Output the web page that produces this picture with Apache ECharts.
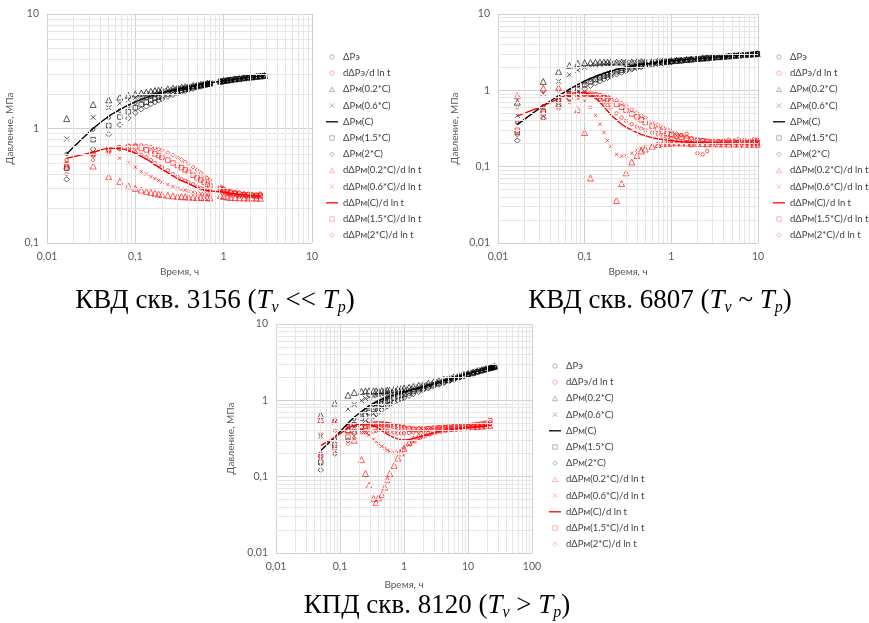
<!DOCTYPE html>
<html>
<head>
<meta charset="utf-8">
<script src="https://cdn.jsdelivr.net/npm/echarts@6/dist/echarts.min.js"></script>
<style>
  html, body { margin: 0; padding: 0; background: #fff; }
  #chart { width: 869px; height: 623px; }
</style>
</head>
<body>
<div id="chart"></div>
<script>
// имена рядов (общие для трёх графиков)
const seriesNames = ['ΔPэ', 'dΔPэ/d ln t', 'ΔPм(0.2*C)', 'ΔPм(0.6*C)', 'ΔPм(C)', 'ΔPм(1.5*C)', 'ΔPм(2*C)',
  'dΔPм(0.2*C)/d ln t', 'dΔPм(0.6*C)/d ln t', 'dΔPм(C)/d ln t', 'dΔPм(1.5*C)/d ln t', 'dΔPм(2*C)/d ln t'];

// --- КВД скв. 3156 ---
const T1 = [0.0167,0.0333,0.05,0.0667,0.0833,0.1,0.1167,0.1333,0.15,0.1667, 0.1833,0.2,0.2333,0.2667,0.3,0.3333,0.3667,0.4,0.45,0.5, 0.55,0.6,0.65,0.7,0.92,1.0,1.1,1.2,1.35,1.5, 1.7,1.9,2.1,2.35,2.6,2.9];
const c1_pe  = [0.60,0.98,1.24,1.43,1.57,1.68,1.77,1.84,1.90,1.95, 2.00,2.04,2.10,2.15,2.19,2.23,2.26,2.29,2.33,2.37, 2.40,2.43,2.46,2.49,2.57,2.60,2.63,2.66,2.69,2.72, 2.75,2.78,2.81,2.84,2.86,2.88];
const c1_dpe = [0.53,0.58,0.64,0.66,0.65,0.62,0.59,0.56,0.53,0.50, 0.48,0.46,0.43,0.40,0.38,0.36,0.35,0.34,0.325,0.31, 0.30,0.295,0.29,0.287,0.30,0.29,0.27,0.26,0.275,0.255, 0.265,0.25,0.26,0.255,0.27,null];
const c1_p02 = [1.22,1.62,1.78,1.88,1.95,2.00,2.04,2.08,2.11,2.14, 2.16,2.18,2.22,2.25,2.28,2.30,2.32,2.34,2.37,2.40, 2.43,2.45,2.48,2.50,2.59,2.62,2.65,2.67,2.71,2.73, 2.77,2.80,2.82,2.85,2.87,2.90];
const c1_p06 = [0.81,1.25,1.52,1.66,1.78,1.86,1.92,1.97,2.01,2.04, 2.07,2.10,2.15,2.19,2.22,2.25,2.28,2.31,2.35,2.38, 2.42,2.44,2.47,2.50,2.58,2.61,2.64,2.67,2.70,2.73, 2.76,2.79,2.82,2.84,2.87,2.89];
const c1_pm  = [0.60,1.00,1.28,1.46,1.60,1.71,1.79,1.86,1.92,1.97, 2.01,2.05,2.11,2.16,2.20,2.24,2.27,2.30,2.34,2.38, 2.41,2.44,2.47,2.50,2.58,2.61,2.64,2.66,2.70,2.72, 2.76,2.79,2.81,2.84,2.86,2.89];
const c1_p15 = [0.45,0.80,1.06,1.26,1.40,1.52,1.62,1.70,1.77,1.83, 1.88,1.92,2.00,2.06,2.11,2.16,2.20,2.23,2.28,2.32, 2.36,2.40,2.44,2.47,2.57,2.60,2.63,2.66,2.70,2.72, 2.76,2.79,2.81,2.84,2.86,2.89];
const c1_p2  = [0.36,0.66,0.89,1.08,1.23,1.37,1.47,1.56,1.64,1.70, 1.76,1.81,1.90,1.97,2.03,2.08,2.13,2.17,2.23,2.28, 2.33,2.37,2.41,2.45,2.56,2.59,2.62,2.65,2.69,2.72, 2.75,2.78,2.81,2.83,2.86,2.88];
const c1_d02 = [0.47,0.47,0.38,0.345,0.315,0.30,0.29,0.283,0.277,0.272, 0.268,0.265,0.261,0.258,0.256,0.254,0.253,0.252,0.251,0.25, 0.25,0.249,0.249,0.248,0.26,0.255,0.252,0.25,0.249,0.248, 0.248,0.247,0.247,0.247,0.246,null];
const c1_d06 = [0.50,0.59,0.60,0.55,0.50,0.46,0.42,0.40,0.38,0.365, 0.352,0.34,0.325,0.312,0.302,0.295,0.289,0.284,0.278,0.273, 0.27,0.268,0.266,0.265,0.285,0.275,0.268,0.263,0.26,0.258, 0.256,0.255,0.254,0.253,0.252,null];
const c1_dpm = [0.55,0.62,0.67,0.67,0.64,0.61,0.57,0.54,0.51,0.48, 0.46,0.44,0.41,0.385,0.365,0.35,0.34,0.33,0.315,0.305, 0.298,0.292,0.288,0.285,0.28,0.278,0.275,0.272,0.269,0.266, 0.264,0.262,0.26,0.258,0.257,null];
const c1_d15 = [0.48,0.60,0.66,0.68,0.69,0.69,0.67,0.65,0.62,0.60, 0.58,0.56,0.53,0.50,0.475,0.455,0.435,0.415,0.39,0.37, 0.355,0.34,0.325,0.315,0.30,0.29,0.282,0.276,0.271,0.267, 0.264,0.262,0.26,0.259,0.258,null];
const c1_d2  = [0.40,0.53,0.62,0.68,0.71,0.72,0.715,0.705,0.69,0.675, 0.66,0.645,0.615,0.585,0.56,0.535,0.51,0.49,0.46,0.435, 0.41,0.39,0.37,0.355,0.31,0.30,0.29,0.285,0.28,0.276, 0.273,0.27,0.268,0.267,0.266,null];

// --- КВД скв. 6807 ---
const T2 = [0.0167,0.0333,0.05,0.0667,0.0833,0.1,0.1167,0.1333,0.15,0.1667, 0.1833,0.2,0.2333,0.2667,0.3,0.35,0.4,0.45,0.5,0.6, 0.7,0.8,0.9,1,1.15,1.3,1.5,1.7,2,2.3, 2.6,3,3.5,4,4.6,5.3,6,7,8,9, 9.8];
const c2_pe  = [0.38,0.62,0.82,0.99,1.14,1.27,1.38,1.47,1.55,1.62, 1.68,1.74,1.83,1.91,1.97,2.05,2.11,2.16,2.20,2.26, 2.31,2.35,2.38,2.41,2.45,2.48,2.52,2.55,2.59,2.62, 2.65,2.69,2.73,2.76,2.80,2.84,2.87,2.91,2.95,2.98, 3.01];
const c2_dpe = [0.38,0.60,0.74,0.85,0.90,0.90,0.87,0.82,0.76,0.70, 0.64,0.59,0.50,0.44,0.40,0.36,0.335,0.315,0.30,0.28, 0.265,0.25,0.24,0.235,0.24,0.26,0.27,0.19,0.15,0.145, 0.16,0.20,0.215,0.22,0.225,0.22,0.23,0.225,0.22,0.23, 0.225];
const c2_p02 = [0.70,1.31,1.77,2.12,2.25,2.30,2.32,2.33,2.34,2.35, 2.35,2.35,2.35,2.35,2.35,2.36,2.37,2.38,2.39,2.40, 2.42,2.43,2.44,2.45,2.48,2.50,2.54,2.57,2.61,2.64, 2.67,2.71,2.75,2.78,2.82,2.86,2.89,2.93,2.97,3.00, 3.03];
const c2_p06 = [0.47,0.92,1.31,1.60,1.83,2.00,2.10,2.16,2.20,2.23, 2.25,2.27,2.29,2.30,2.31,2.32,2.33,2.34,2.35,2.37, 2.39,2.41,2.43,2.44,2.47,2.50,2.53,2.56,2.60,2.63, 2.66,2.70,2.74,2.77,2.81,2.85,2.88,2.92,2.96,2.99, 3.02];
const c2_pm  = [0.355,0.63,0.85,1.03,1.19,1.32,1.43,1.52,1.60,1.67, 1.73,1.78,1.87,1.94,2.00,2.07,2.13,2.17,2.21,2.27, 2.32,2.36,2.39,2.42,2.46,2.49,2.53,2.56,2.60,2.63, 2.66,2.70,2.74,2.77,2.81,2.85,2.88,2.92,2.96,2.99, 3.02];
const c2_p15 = [0.28,0.53,0.73,0.90,1.05,1.18,1.29,1.38,1.46,1.53, 1.59,1.65,1.75,1.83,1.90,1.98,2.05,2.10,2.15,2.22, 2.27,2.31,2.35,2.38,2.43,2.46,2.50,2.54,2.58,2.62, 2.65,2.69,2.73,2.76,2.80,2.84,2.87,2.91,2.95,2.98, 3.01];
const c2_p2  = [0.22,0.43,0.62,0.78,0.92,1.05,1.15,1.24,1.32,1.40, 1.46,1.52,1.62,1.71,1.78,1.88,1.96,2.02,2.08,2.16, 2.22,2.27,2.31,2.35,2.40,2.44,2.49,2.53,2.57,2.61, 2.64,2.68,2.72,2.76,2.80,2.83,2.87,2.91,2.95,2.98, 3.01];
const c2_d02 = [0.85,1.07,1.09,0.95,0.56,0.28,0.071,null,null,null, null,null,0.036,0.06,0.083,0.115,0.14,0.16,0.17,0.185, 0.195,0.2,0.202,0.204,0.205,0.205,0.204,0.203,0.202,0.201, 0.2,0.2,0.199,0.199,0.198,0.198,0.198,0.197,0.197,0.197, 0.197];
const c2_d06 = [0.59,0.90,0.98,0.92,0.80,0.72,0.60,0.47,0.36,0.28, 0.22,0.185,0.145,0.137,0.14,0.15,0.165,0.175,0.183,0.192, 0.198,0.201,0.203,0.205,0.206,0.207,0.207,0.207,0.206,0.206, 0.205,0.205,0.205,0.204,0.204,0.204,0.204,0.204,0.204,0.204, 0.204];
const c2_dpm = [0.46,0.63,0.78,0.89,0.94,0.93,0.88,0.79,0.70,0.61, 0.54,0.48,0.41,0.36,0.33,0.30,0.28,0.265,0.255,0.24, 0.232,0.226,0.222,0.22,0.215,0.212,0.21,0.208,0.207,0.206, 0.205,0.205,0.204,0.204,0.204,0.203,0.203,0.203,0.203,0.203, 0.203];
const c2_d15 = [0.30,0.50,0.66,0.80,0.88,0.90,0.89,0.87,0.84,0.80, 0.77,0.73,0.66,0.60,0.55,0.49,0.45,0.41,0.38,0.34, 0.31,0.29,0.275,0.265,0.252,0.243,0.235,0.228,0.222,0.218, 0.215,0.212,0.21,0.209,0.208,0.207,0.206,0.206,0.205,0.205, 0.205];
const c2_d2  = [0.26,0.43,0.57,0.70,0.80,0.86,0.88,0.88,0.87,0.85, 0.83,0.80,0.74,0.68,0.63,0.56,0.51,0.47,0.44,0.39, 0.355,0.33,0.31,0.29,0.27,0.256,0.245,0.236,0.228,0.222, 0.218,0.215,0.213,0.212,0.212,0.213,0.214,0.215,0.216,0.217, 0.218];

// --- КПД скв. 8120 ---
const T3 = [0.05,0.0833,0.1333,0.1667,0.2167,0.25,0.2833,0.3333,0.3667,0.4, 0.45,0.5,0.55,0.6,0.7,0.8,0.9,1,1.2,1.4, 1.7,2,2.4,2.9,3.5,4.2,5,6,7.2,8.6, 10,12,14,16.5,19,22,24,26];
const c3_pe  = [0.20,0.31,0.47,0.57,0.68,0.75,0.81,0.88,0.92,0.96, 1.01,1.05,1.09,1.12,1.16,1.20,1.23,1.26,1.31,1.36, 1.42,1.48,1.55,1.62,1.70,1.78,1.86,1.94,2.03,2.12, 2.19,2.29,2.38,2.47,2.55,2.64,2.69,2.73];
const c3_dpe = [0.18,0.40,0.46,0.48,0.40,0.38,0.37,0.39,0.40,0.41, 0.42,0.41,0.40,0.39,0.38,0.37,0.37,0.37,0.375,0.38, 0.39,0.40,0.41,0.42,0.43,0.43,0.44,0.44,0.45,0.45, 0.46,0.46,0.47,0.47,0.48,0.49,null,null];
const c3_p02 = [0.64,0.92,1.17,1.27,1.31,1.33,1.33,1.33,1.33,1.33, 1.34,1.35,1.36,1.37,1.39,1.41,1.43,1.45,1.48,1.52, 1.57,1.62,1.68,1.75,1.82,1.89,1.96,2.03,2.11,2.19, 2.26,2.35,2.44,2.53,2.61,2.70,2.75,2.80];
const c3_p06 = [0.34,0.52,0.77,0.88,0.99,1.06,1.10,1.14,1.16,1.18, 1.21,1.23,1.25,1.27,1.30,1.33,1.35,1.37,1.41,1.45, 1.50,1.55,1.61,1.68,1.75,1.83,1.91,1.99,2.07,2.16, 2.23,2.33,2.42,2.51,2.59,2.68,2.73,2.77];
const c3_pm  = [0.22,0.33,0.50,0.60,0.71,0.78,0.84,0.91,0.95,0.99, 1.03,1.08,1.11,1.14,1.18,1.22,1.25,1.28,1.33,1.38, 1.44,1.50,1.57,1.64,1.72,1.80,1.88,1.96,2.05,2.14, 2.21,2.31,2.40,2.49,2.57,2.66,2.71,2.75];
const c3_p15 = [0.155,0.26,0.40,0.48,0.58,0.64,0.69,0.76,0.80,0.84, 0.89,0.94,0.98,1.01,1.07,1.12,1.16,1.19,1.25,1.31, 1.38,1.44,1.51,1.59,1.67,1.75,1.83,1.92,2.01,2.10, 2.18,2.28,2.37,2.46,2.54,2.63,2.69,2.73];
const c3_p2  = [0.122,0.20,0.30,0.37,0.45,0.50,0.55,0.62,0.66,0.70, 0.75,0.80,0.84,0.88,0.94,1.00,1.04,1.08,1.15,1.21, 1.29,1.36,1.44,1.52,1.61,1.70,1.78,1.87,1.97,2.06, 2.14,2.24,2.33,2.43,2.51,2.60,2.66,2.71];
const c3_d02 = [0.56,0.56,0.41,0.30,0.167,0.11,0.077,0.052,0.046,0.053, 0.058,0.073,0.091,0.11,0.14,0.175,0.205,0.235,0.28,0.31, 0.34,0.36,0.38,0.395,0.41,0.42,0.425,0.43,0.435,0.44, 0.445,0.45,0.455,0.46,0.465,0.47,null,null];
const c3_d06 = [0.36,0.52,0.47,0.45,0.41,0.38,0.35,0.31,0.29,0.27, 0.25,0.235,0.222,0.214,0.206,0.21,0.22,0.235,0.26,0.285, 0.31,0.33,0.35,0.37,0.385,0.40,0.41,0.42,0.43,0.435, 0.44,0.445,0.45,0.455,0.46,0.465,null,null];
const c3_dpm = [0.255,0.33,0.43,0.47,0.49,0.49,0.48,0.465,0.45,0.43, 0.40,0.38,0.36,0.345,0.325,0.312,0.305,0.303,0.308,0.318, 0.33,0.345,0.36,0.375,0.39,0.40,0.41,0.42,0.43,0.435, 0.44,0.445,0.45,0.455,0.46,0.47,null,null];
const c3_d15 = [0.19,0.24,0.33,0.39,0.44,0.46,0.475,0.485,0.49,0.49, 0.49,0.485,0.48,0.475,0.46,0.45,0.44,0.43,0.42,0.415, 0.415,0.42,0.425,0.43,0.435,0.44,0.445,0.45,0.455,0.46, 0.465,0.47,0.48,0.49,0.50,0.54,null,null];
const c3_d2  = [0.145,0.20,0.27,0.32,0.38,0.41,0.44,0.465,0.475,0.485, 0.49,0.49,0.49,0.485,0.475,0.465,0.455,0.45,0.44,0.435, 0.43,0.43,0.435,0.44,0.445,0.45,0.455,0.46,0.465,0.47, 0.475,0.48,0.485,0.49,0.50,0.52,null,null];

// значки-пути (с сохранением пропорций в легенде)
const CROSS = 'path://M0,0L10,10M10,0L0,10';
const TRI = 'path://M5,0L10,9L0,9Z';
const SQR = 'path://M0,0H10V10H0Z';
const DIA = 'path://M5,0L10,5L5,10L0,5Z';
const CIRC = 'path://M5,0A5,5,0,1,1,5,10A5,5,0,1,1,5,0Z';
const DASH = 'path://M0,0H12V1.3H0Z';
const BLK = '#000000', RED = '#ff0000';
// вид маркеров в порядке seriesNames
const marks = [
  { kind: 'scatter', symbol: 'circle', icon: CIRC, size: 3.5, color: BLK },
  { kind: 'scatter', symbol: 'circle', icon: CIRC, size: 3.5, color: RED },
  { kind: 'scatter', symbol: 'triangle', icon: TRI, size: 6, color: BLK },
  { kind: 'scatter', symbol: CROSS, icon: CROSS, size: 5, color: BLK },
  { kind: 'line', color: BLK },
  { kind: 'scatter', symbol: 'rect', icon: SQR, size: 4.5, color: BLK },
  { kind: 'scatter', symbol: 'diamond', icon: DIA, size: 5.5, color: BLK },
  { kind: 'scatter', symbol: 'triangle', icon: TRI, size: 6, color: RED },
  { kind: 'scatter', symbol: CROSS, icon: CROSS, size: 3.5, color: RED },
  { kind: 'line', color: RED },
  { kind: 'scatter', symbol: 'rect', icon: SQR, size: 4.5, color: RED },
  { kind: 'scatter', symbol: 'diamond', icon: DIA, size: 4, color: RED }
];

function buildSeries(gi, T, arrs) {
  return arrs.map((vals, k) => {
    const m = marks[k];
    const data = T.map((t, i) => [t, vals[i]]).filter(p => p[1] != null);
    if (m.kind === 'line') {
      return {
        name: seriesNames[k], type: 'line', xAxisIndex: gi, yAxisIndex: gi, data,
        symbol: 'none', smooth: 0.3, z: 4,
        lineStyle: { color: m.color, width: 1.4 }, itemStyle: { color: m.color }
      };
    }
    return {
      name: seriesNames[k], type: 'scatter', xAxisIndex: gi, yAxisIndex: gi, data,
      symbol: m.symbol, symbolSize: m.size, z: 3,
      itemStyle: { color: 'rgba(0,0,0,0)', borderColor: m.color, borderWidth: 0.8 }
    };
  });
}

// мелкая сетка логарифмических осей (2..9 в каждой декаде)
function minorGrid(gi, x0, x1, y0, y1) {
  const d = [];
  for (let e = x0; e < x1 * 0.999; e *= 10)
    for (let k = 2; k <= 9; k++) d.push({ xAxis: +(k * e).toPrecision(3) });
  for (let e = y0; e < y1 * 0.999; e *= 10)
    for (let k = 2; k <= 9; k++) d.push({ yAxis: +(k * e).toPrecision(3) });
  return {
    type: 'line', xAxisIndex: gi, yAxisIndex: gi, data: [], silent: true, z: 1,
    markLine: {
      silent: true, symbol: ['none', 'none'], label: { show: false }, animation: false,
      lineStyle: { color: '#e6e6e6', width: 1, type: 'solid' }, emphasis: { disabled: true }, data: d
    }
  };
}

const fmt = v => String(+(+v).toPrecision(3)).replace('.', ',');
const FONT = 'Lato';

function xAx(gi, min, max, gap) {
  return {
    type: 'log', logBase: 10, gridIndex: gi, min, max,
    name: 'Время, ч', nameLocation: 'middle', nameGap: gap,
    nameTextStyle: { fontFamily: FONT, fontSize: 10, color: '#595959' },
    axisLine: { show: false }, axisTick: { show: false },
    axisLabel: { fontFamily: FONT, fontSize: 10.5, color: '#595959', margin: 8, formatter: fmt },
    splitLine: { show: true, lineStyle: { color: '#d0d0d0', width: 1 } }
  };
}
function yAx(gi, min, max, gap) {
  return {
    type: 'log', logBase: 10, gridIndex: gi, min, max,
    name: 'Давление, МПа', nameLocation: 'middle', nameGap: gap,
    nameTextStyle: { fontFamily: FONT, fontSize: 10, color: '#595959' },
    axisLine: { show: false }, axisTick: { show: false },
    axisLabel: { fontFamily: FONT, fontSize: 10.5, color: '#595959', margin: 8, formatter: fmt },
    splitLine: { show: true, lineStyle: { color: '#d0d0d0', width: 1 } }
  };
}
// значки легенды: мелкие, бледные, как в оригинале
const legendItems = seriesNames.map((n, k) => {
  const m = marks[k];
  if (m.kind === 'line') return { name: n, icon: DASH, itemStyle: { color: m.color, borderWidth: 0 } };
  return {
    name: n, icon: m.icon,
    itemStyle: { color: 'rgba(0,0,0,0)', borderColor: m.color === BLK ? '#8c8c8c' : '#ff8a8a', borderWidth: 0.8 }
  };
});
function legend(left, top) {
  return {
    orient: 'vertical', left, top, itemWidth: 12, itemHeight: 4.5, itemGap: 4.2,
    symbolKeepAspect: true, selectedMode: false, data: legendItems,
    textStyle: { fontFamily: FONT, fontSize: 9.5, color: '#404040', lineHeight: 12 }
  };
}
function caption(x, y, pre, mid) {
  return {
    type: 'text', x, y, silent: true,
    style: {
      text: '{a|' + pre + '}{i|T}{s|v}{a|' + mid + '}{i|T}{s|p}{a|)}',
      align: 'center', verticalAlign: 'middle',
      rich: {
        a: { fontFamily: 'Liberation Serif', fontSize: 27, color: '#000', lineHeight: 30 },
        i: { fontFamily: 'Liberation Serif', fontSize: 27, fontStyle: 'italic', color: '#000', lineHeight: 30 },
        s: { fontFamily: 'Liberation Serif', fontSize: 16, fontStyle: 'italic', color: '#000', lineHeight: 16, verticalAlign: 'bottom' }
      }
    }
  };
}

const chart = echarts.init(document.getElementById('chart'), null, { renderer: 'canvas' });
chart.setOption({
  animation: false,
  backgroundColor: '#ffffff',
  grid: [
    { left: 47, top: 14, width: 265, height: 229 },
    { left: 498, top: 14, width: 260, height: 229 },
    { left: 276, top: 324, width: 256, height: 229 }
  ],
  xAxis: [xAx(0, 0.01, 10, 24), xAx(1, 0.01, 10, 24), xAx(2, 0.01, 100, 27)],
  yAxis: [yAx(0, 0.1, 10, 32), yAx(1, 0.01, 10, 38), yAx(2, 0.01, 10, 40)],
  legend: [legend(321, 46), legend(768, 46), legend(544, 355)],
  graphic: [
    caption(215, 301, 'КВД скв. 3156 (', ' << '),
    caption(660, 301, 'КВД скв. 6807 (', ' ~ '),
    caption(437, 606, 'КПД скв. 8120 (', ' > ')
  ],
  series: [
    minorGrid(0, 0.01, 10, 0.1, 10),
    minorGrid(1, 0.01, 10, 0.01, 10),
    minorGrid(2, 0.01, 100, 0.01, 10),
    ...buildSeries(0, T1, [c1_pe, c1_dpe, c1_p02, c1_p06, c1_pm, c1_p15, c1_p2, c1_d02, c1_d06, c1_dpm, c1_d15, c1_d2]),
    ...buildSeries(1, T2, [c2_pe, c2_dpe, c2_p02, c2_p06, c2_pm, c2_p15, c2_p2, c2_d02, c2_d06, c2_dpm, c2_d15, c2_d2]),
    ...buildSeries(2, T3, [c3_pe, c3_dpe, c3_p02, c3_p06, c3_pm, c3_p15, c3_p2, c3_d02, c3_d06, c3_dpm, c3_d15, c3_d2])
  ]
});
</script>
</body>
</html>
